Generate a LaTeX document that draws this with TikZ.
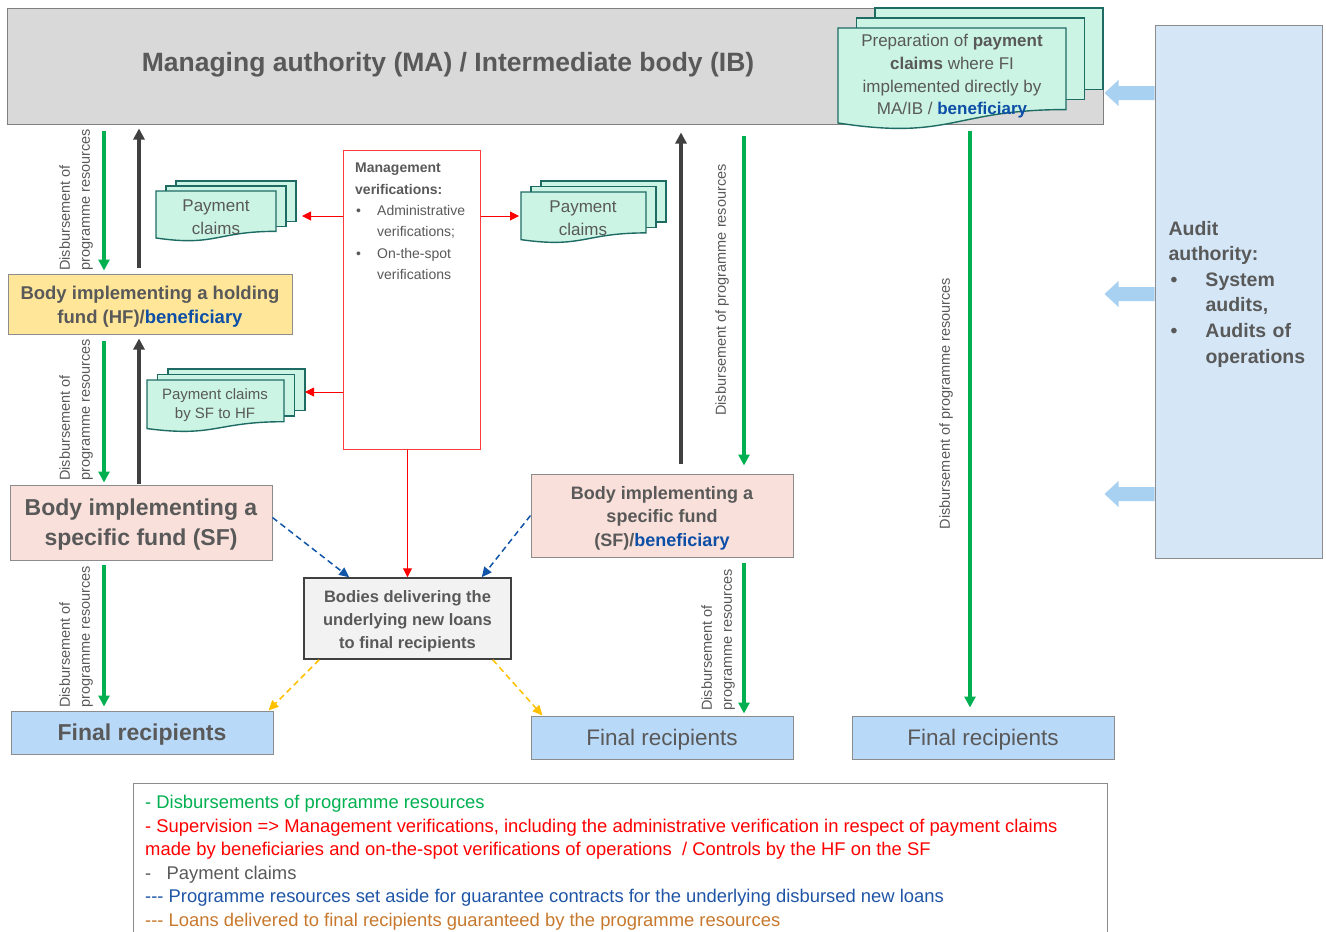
\documentclass[tikz,border=0pt]{standalone}
\usepackage{fontspec}
\setmainfont{Liberation Sans}
\usetikzlibrary{arrows.meta,calc}
\definecolor{txt}{HTML}{595959}
\definecolor{magray}{HTML}{D9D9D9}
\definecolor{maline}{HTML}{7F7F7F}
\definecolor{boxgray}{HTML}{8C8C8C}
\definecolor{docfill}{HTML}{CBF4E5}
\definecolor{docline}{HTML}{1E6B64}
\definecolor{hffill}{HTML}{FFE699}
\definecolor{sffill}{HTML}{F9E0DA}
\definecolor{frfill}{HTML}{B9D9F8}
\definecolor{audfill}{HTML}{D5E7F7}
\definecolor{aablue}{HTML}{A8D0F0}
\definecolor{bodfill}{HTML}{F2F2F2}
\definecolor{bodline}{HTML}{404040}
\definecolor{lgreen}{HTML}{00B050}
\definecolor{darkarrow}{HTML}{404040}
\definecolor{dblue}{HTML}{1155A8}
\definecolor{lyellow}{HTML}{FFC000}
\definecolor{legblue}{HTML}{1F55A6}
\definecolor{legorange}{HTML}{C7782C}
\definecolor{benblue}{HTML}{0D4FA6}
\definecolor{mvred}{HTML}{FF3B3B}
\newcommand{\setfs}[2]{\fontsize{#1pt}{#2pt}\selectfont}
\newcommand{\dn}{\raisebox{5pt}{\vphantom{(}}}
\newcommand{\docsheet}[4]{\filldraw[docst] (#1,#2) -- ({#1+#3},#2) -- ({#1+#3},{#2+0.802*#4}) .. controls ({#1+0.5*#3},{#2+0.802*#4}) and ({#1+0.5*#3},{#2+1.1075*#4}) .. (#1,{#2+0.934*#4}) -- cycle;}
\newcommand{\backsheet}[4]{\filldraw[docst] (#1,#2) rectangle ({#1+#3},{#2+0.8*#4});}
\newcommand{\docstack}[6]{\backsheet{#1+2*#5}{#2-2*#6}{#3}{#4}\backsheet{#1+#5}{#2-#6}{#3}{#4}\docsheet{#1}{#2}{#3}{#4}}
\newcommand{\auditarrow}[1]{\fill[aablue] (#1) -- ++(0,-7) -- ++(-36,0) -- ++(0,-6) -- ++(-14,13) -- ++(14,13) -- ++(0,-6) -- ++(36,0) -- cycle;}
\begin{document}
\begin{tikzpicture}[x=1pt,y=-1pt,
  box/.style={draw=boxgray, line width=1pt, inner sep=0pt, text=txt, align=center},
  garrow/.style={draw=lgreen, line width=3.8pt, -{Triangle[width=11pt,length=11pt]}},
  karrow/.style={draw=darkarrow, line width=3.8pt, -{Triangle[width=11pt,length=11pt]}},
  rarrow/.style={draw=red, line width=1pt, -{Triangle[width=9pt,length=9pt]}},
  bdash/.style={draw=dblue, line width=1.5pt, dash pattern=on 6pt off 4pt, -{Triangle[width=9pt,length=10pt]}},
  ydash/.style={draw=lyellow, line width=1.5pt, dash pattern=on 6pt off 4pt, -{Triangle[width=9pt,length=10pt]}},
  rlabel/.style={rotate=90, inner sep=0pt, text=txt, align=left, font=\setfs{14.5}{20}},
  docst/.style={fill=docfill, draw=docline, line width=1.4pt},
]
\useasboundingbox (0,0) rectangle (1326,932);

% column coordinates
\coordinate (c104) at (104,0);
\coordinate (c139) at (139,0);
\coordinate (c681) at (681,0);
\coordinate (c744) at (744,0);
\coordinate (c970) at (970,0);

% Managing authority
\node[box, fill=magray, draw=maline, minimum width=1096pt, minimum height=116pt] (ma) at (555,66) {};
\node[text=txt, inner sep=0pt, font=\setfs{26.5}{30}\bfseries] (title) at (448,62.5) {\dn Managing authority (MA) / Intermediate body (IB)};

% preparation stack
\docstack{838}{28}{228}{101.7}{18.5}{10}
\node[text=txt, align=center, inner sep=0pt, font=\setfs{17}{22.7}] (prep) at (952,74) {\dn Preparation of \textbf{payment}\\\textbf{claims} where FI\\implemented directly by\\MA/IB / \textcolor{benblue}{\textbf{beneficiary}}};

% Audit authority
\node[box, fill=audfill, draw=boxgray, minimum width=167pt, minimum height=533pt, text width=140pt, align=left, font=\setfs{19.5}{25.6}\bfseries] (audit) at (1238.5,291.5) {\dn Audit\\authority:\\\makebox[37pt][l]{\hspace{2pt}•}System\\\hspace*{37pt}audits,\\\makebox[37pt][l]{\hspace{2pt}•}Audits of\\\hspace*{37pt}operations};
\auditarrow{[yshift=198.5pt]audit.west}
\auditarrow{[yshift=-2.5pt]audit.west}
\auditarrow{[yshift=-202.5pt]audit.west}

% main boxes
\node[box, fill=hffill, minimum width=284pt, minimum height=60pt, font=\setfs{18.5}{24}\bfseries] (hf) at (150,304) {\dn Body implementing a holding\\fund (HF)/\textcolor{benblue}{beneficiary}};
\node[box, fill=sffill, minimum width=262pt, minimum height=75pt, font=\setfs{23}{30}\bfseries] (sfl) at (141,522.5) {\dn Body implementing a\\specific fund (SF)};
\node[box, fill=frfill, minimum width=262pt, minimum height=43pt, font=\setfs{23}{28}\bfseries] (frl) at (142,732.5) {\dn Final recipients};
\node[box, fill=bodfill, draw=bodline, line width=1.5pt, minimum width=207pt, minimum height=81pt, font=\setfs{16.5}{23}\bfseries] (bodies) at (407.5,618.5) {\dn Bodies delivering the\\underlying new loans\\to final recipients};
\node[box, fill=white, draw=mvred, minimum width=137pt, minimum height=299pt] (mv) at (411.5,299.5) {};
\node[anchor=north west, inner sep=0pt, align=left, text=txt, font=\setfs{14}{21.3}] (mvtext) at (355,163) {\textbf{Management}\\\textbf{verifications:}\\\makebox[22pt][l]{\hspace{1pt}•}Administrative\\\hspace*{22pt}verifications;\\\makebox[22pt][l]{\hspace{1pt}•}On-the-spot\\\hspace*{22pt}verifications};
\node[box, fill=sffill, minimum width=262pt, minimum height=83pt, font=\setfs{18}{23.5}\bfseries] (sfr) at (662,515.5) {\dn Body implementing a\\specific fund\\(SF)/\textcolor{benblue}{beneficiary}};
\node[box, fill=frfill, minimum width=262pt, minimum height=43pt, font=\setfs{22.5}{28}] (frm) at (662,737.5) {\dn Final recipients};
\node[box, fill=frfill, minimum width=262pt, minimum height=43pt, font=\setfs{22.5}{28}] (frr) at (983,737.5) {\dn Final recipients};

% payment claim stacks
\docstack{156}{191}{120}{50.3}{10}{5}
\node[text=txt, align=center, inner sep=0pt, font=\setfs{17}{23}] (pct1) at (216,217.5) {Payment\\claims};
\docstack{521}{192}{125}{51}{10}{5.5}
\node[text=txt, align=center, inner sep=0pt, font=\setfs{17}{23}] (pct2) at (583,218) {Payment\\claims};
\docstack{147}{380}{137}{52}{10.5}{5.5}
\node[text=txt, align=center, inner sep=0pt, font=\setfs{15}{19}] (pct3) at (215,405.5) {Payment claims\\by SF to HF};
\coordinate (pc1) at (302,216);
\coordinate (pc2) at (519,216);
\coordinate (pc3) at (305,392);

% green / gray arrows
\draw[garrow, shorten <=6pt, shorten >=3pt] (ma.south -| c104) -- (hf.north -| c104);
\draw[karrow, shorten <=6pt, shorten >=4pt] (hf.north -| c139) -- (ma.south -| c139);
\draw[garrow, shorten <=6pt, shorten >=2pt] (hf.south -| c104) -- (sfl.north -| c104);
\draw[karrow, shorten <=1pt, shorten >=4pt] (sfl.north -| c139) -- (hf.south -| c139);
\draw[garrow, shorten <=4pt, shorten >=4pt] (sfl.south -| c104) -- (frl.north -| c104);
\draw[garrow, shorten <=11pt, shorten >=8pt] (ma.south -| c744) -- (sfr.north -| c744);
\draw[karrow, shorten <=10pt, shorten >=8pt] (sfr.north -| c681) -- (ma.south -| c681);
\draw[garrow, shorten <=5pt, shorten >=2pt] (sfr.south -| c744) -- (frm.north -| c744);
\draw[garrow, shorten <=6pt, shorten >=8pt] (ma.south -| c970) -- (frr.north -| c970);

% rotated labels
\node[rlabel, anchor=west] (l1) at (76,271) {Disbursement of\\programme resources};
\node[rlabel, anchor=west] (l2) at (76,481) {Disbursement of\\programme resources};
\node[rlabel, anchor=west] (l3) at (76,708) {Disbursement of\\programme resources};
\node[rlabel] (l4) at (722,290) {Disbursement of programme resources};
\node[rlabel, anchor=west] (l5) at (718,711) {Disbursement of\\programme resources};
\node[rlabel] (l6) at (946,403.5) {Disbursement of programme resources};

% red arrows
\draw[rarrow] (mv.west |- pc1) -- (pc1);
\draw[rarrow] (mv.east |- pc2) -- (pc2);
\draw[rarrow] (mv.west |- pc3) -- (pc3);
\draw[rarrow] (mv.south -| bodies.north) -- (bodies.north);

% dashed arrows
\draw[bdash] ([yshift=5pt]sfl.east) -- ([xshift=46pt]bodies.north west);
\draw[bdash] (sfr.west) -- ([xshift=-30pt]bodies.north east);
\draw[ydash] ([xshift=16pt]bodies.south west) -- ([xshift=-5pt]frl.north east);
\draw[ydash] ([xshift=-19pt]bodies.south east) -- ([xshift=12pt]frm.north west);

% legend
\node[draw=boxgray, line width=1pt, minimum width=974pt, minimum height=170pt, inner sep=0pt] (legend) at (620,868) {};
\node[anchor=north west, inner sep=0pt, align=left, font=\setfs{18.4}{23.6}] (legtext) at (145,795) {%
\textcolor{lgreen}{- Disbursements of programme resources}\\
\textcolor{red}{- Supervision => Management verifications, including the administrative verification in respect of payment claims}\\
\textcolor{red}{made by beneficiaries and on-the-spot verifications of operations \ / Controls by the HF on the SF}\\
\textcolor{txt}{-\ \ \ Payment claims}\\
\textcolor{legblue}{-{}-{}- Programme resources set aside for guarantee contracts for the underlying disbursed new loans}\\
\textcolor{legorange}{-{}-{}- Loans delivered to final recipients guaranteed by the programme resources}};
\end{tikzpicture}
\end{document}
